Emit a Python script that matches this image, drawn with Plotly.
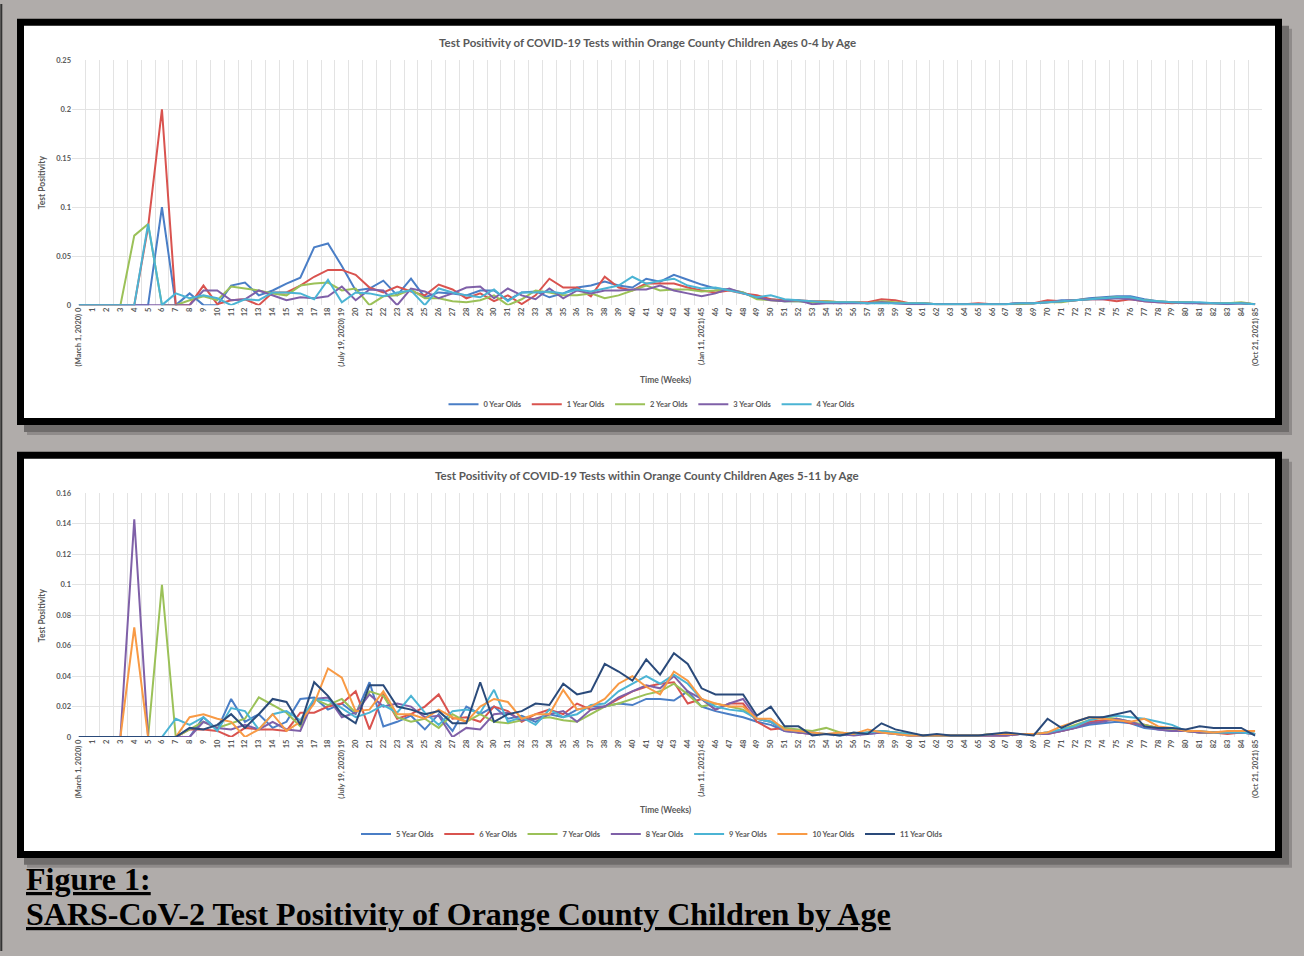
import plotly.graph_objects as go

W, H = 1304, 956

weeks = list(range(86))
special = {0: "(March 1, 2020) 0", 19: "(July 19, 2020) 19", 45: "(Jan 11, 2021) 45", 85: "(Oct 21, 2021) 85"}
tick_labels = [special.get(w, str(w)) for w in weeks]

# ---- Chart 1: ages 0-4 ----
age0 = [
    0, 0, 0, 0, 0, 0, 0.1, 0, 0.012, 0,
    0, 0.02, 0.023, 0.01, 0.015, 0.022, 0.028, 0.059, 0.063, 0.04,
    0.015, 0.017, 0.025, 0.01, 0.027, 0.008, 0.013, 0.012, 0.01, 0.015,
    0.015, 0.005, 0.013, 0.014, 0.008, 0.012, 0.018, 0.02, 0.024, 0.02,
    0.018, 0.027, 0.024, 0.031, 0.026, 0.021, 0.017, 0.016, 0.013, 0.007,
    0.006, 0.004, 0.004, 0.003, 0.003, 0.002, 0.003, 0.002, 0.003, 0.002,
    0.002, 0.002, 0.001, 0.001, 0.001, 0.001, 0.001, 0.001, 0.002, 0.002,
    0.003, 0.005, 0.005, 0.007, 0.008, 0.009, 0.009, 0.006, 0.004, 0.003,
    0.003, 0.002, 0.002, 0.002, 0.002, 0.001]
age1 = [
    0, 0, 0, 0, 0, 0.08, 0.2, 0, 0, 0.02,
    0.001, 0.005, 0.006, 0, 0.013, 0.013, 0.02, 0.029, 0.036, 0.036,
    0.031, 0.018, 0.013, 0.019, 0.014, 0.01, 0.021, 0.016, 0.007, 0.012,
    0.004, 0.01, 0.001, 0.01, 0.027, 0.018, 0.018, 0.009, 0.029, 0.018,
    0.015, 0.022, 0.022, 0.022, 0.018, 0.015, 0.013, 0.015, 0.012, 0.01,
    0.006, 0.005, 0.005, 0.004, 0.004, 0.003, 0.003, 0.003, 0.006, 0.005,
    0.002, 0.002, 0.001, 0.001, 0.001, 0.002, 0.001, 0.001, 0.002, 0.002,
    0.005, 0.004, 0.005, 0.006, 0.006, 0.004, 0.006, 0.004, 0.003, 0.002,
    0.003, 0.002, 0.002, 0.002, 0.002, 0.001]
age2 = [
    0, 0, 0, 0, 0.071, 0.083, 0, 0, 0.005, 0.009,
    0.005, 0.019, 0.017, 0.015, 0.012, 0.01, 0.02, 0.022, 0.023, 0.015,
    0.017, 0, 0.009, 0.01, 0.016, 0.007, 0.007, 0.004, 0.003, 0.005,
    0.01, 0, 0.006, 0.015, 0.013, 0.01, 0.01, 0.012, 0.007, 0.01,
    0.015, 0.02, 0.015, 0.016, 0.016, 0.014, 0.015, 0.016, 0.013, 0.006,
    0.005, 0.004, 0.004, 0.003, 0.004, 0.003, 0.003, 0.002, 0.004, 0.003,
    0.002, 0.002, 0.001, 0.001, 0.001, 0.001, 0.001, 0.001, 0.001, 0.002,
    0.003, 0.003, 0.005, 0.006, 0.007, 0.008, 0.007, 0.005, 0.004, 0.003,
    0.003, 0.002, 0.002, 0.002, 0.003, 0.001]
age3 = [
    0, 0, 0, 0, 0, 0, 0, 0, 0, 0.015,
    0.015, 0.005, 0.006, 0.015, 0.01, 0.005, 0.008, 0.007, 0.009, 0.019,
    0.005, 0.016, 0.015, 0, 0.017, 0.014, 0.007, 0.012, 0.018, 0.019,
    0.007, 0.017, 0.01, 0.006, 0.017, 0.007, 0.015, 0.012, 0.015, 0.015,
    0.016, 0.016, 0.02, 0.015, 0.012, 0.009, 0.012, 0.017, 0.012, 0.008,
    0.005, 0.004, 0.005, 0.001, 0.002, 0.002, 0.002, 0.002, 0.003, 0.002,
    0.001, 0.001, 0.001, 0.001, 0.001, 0.001, 0.001, 0.001, 0.002, 0.002,
    0.003, 0.004, 0.005, 0.006, 0.006, 0.007, 0.006, 0.004, 0.003, 0.003,
    0.002, 0.002, 0.002, 0.001, 0.002, 0.001]
age4 = [
    0, 0, 0, 0, 0, 0.083, 0, 0.012, 0.007, 0.01,
    0.007, 0, 0.006, 0.005, 0.013, 0.013, 0.012, 0.006, 0.026, 0.003,
    0.013, 0.012, 0.009, 0.013, 0.015, 0, 0.017, 0.013, 0.01, 0.008,
    0.016, 0.004, 0.013, 0.013, 0.014, 0.012, 0.016, 0.014, 0.017, 0.02,
    0.029, 0.022, 0.025, 0.027, 0.02, 0.017, 0.018, 0.015, 0.012, 0.008,
    0.01, 0.006, 0.005, 0.004, 0.003, 0.003, 0.003, 0.002, 0.002, 0.002,
    0.002, 0.002, 0.001, 0.001, 0.001, 0.001, 0.001, 0.001, 0.002, 0.002,
    0.003, 0.004, 0.005, 0.006, 0.007, 0.008, 0.008, 0.005, 0.004, 0.003,
    0.003, 0.003, 0.002, 0.002, 0.002, 0.001]

# ---- Chart 2: ages 5-11 ----
age5 = [
    0, 0, 0, 0, 0, 0, 0, 0, 0, 0.013,
    0.005, 0.025, 0.01, 0.015, 0.006, 0.01, 0.025, 0.026, 0.018, 0.022,
    0.015, 0.036, 0.007, 0.01, 0.014, 0.005, 0.015, 0.004, 0.02, 0.015,
    0.02, 0.012, 0.014, 0.01, 0.015, 0.013, 0.018, 0.02, 0.02, 0.022,
    0.021, 0.025, 0.025, 0.024, 0.03, 0.02, 0.017, 0.015, 0.013, 0.01,
    0.008, 0.004, 0.003, 0.002, 0.002, 0.001, 0.002, 0.002, 0.003, 0.002,
    0.001, 0.001, 0.001, 0.001, 0.001, 0.001, 0.001, 0.001, 0.002, 0.002,
    0.003, 0.004, 0.006, 0.008, 0.009, 0.01, 0.009, 0.006, 0.005, 0.004,
    0.004, 0.003, 0.003, 0.003, 0.003, 0.002]
age6 = [
    0, 0, 0, 0, 0, 0, 0, 0, 0.005, 0.005,
    0.004, 0, 0.006, 0.005, 0.005, 0.004, 0.016, 0.016, 0.02, 0.022,
    0.03, 0.005, 0.028, 0.012, 0.015, 0.02, 0.028, 0.012, 0.013, 0.01,
    0.02, 0.017, 0.01, 0.015, 0.018, 0.015, 0.022, 0.018, 0.02, 0.025,
    0.03, 0.033, 0.035, 0.036, 0.022, 0.025, 0.018, 0.022, 0.022, 0.01,
    0.005, 0.006, 0.003, 0.002, 0.002, 0.002, 0.002, 0.003, 0.004, 0.003,
    0.002, 0.001, 0.001, 0.001, 0.001, 0.001, 0.001, 0.001, 0.002, 0.002,
    0.002, 0.004, 0.006, 0.01, 0.011, 0.012, 0.009, 0.008, 0.006, 0.005,
    0.004, 0.003, 0.003, 0.002, 0.003, 0.002]
age7 = [
    0, 0, 0, 0, 0, 0, 0.1, 0, 0.005, 0.01,
    0.006, 0.009, 0.012, 0.026, 0.021, 0.016, 0.007, 0.025, 0.021, 0.025,
    0.016, 0.03, 0.027, 0.013, 0.01, 0.012, 0.006, 0.015, 0.01, 0.015,
    0.01, 0.009, 0.011, 0.012, 0.013, 0.011, 0.01, 0.015, 0.02, 0.022,
    0.025, 0.028, 0.03, 0.035, 0.028, 0.02, 0.022, 0.02, 0.018, 0.012,
    0.01, 0.006, 0.005, 0.004, 0.006, 0.003, 0.002, 0.003, 0.004, 0.003,
    0.002, 0.001, 0.001, 0.001, 0.001, 0.001, 0.002, 0.002, 0.002, 0.002,
    0.003, 0.005, 0.008, 0.011, 0.013, 0.012, 0.01, 0.008, 0.006, 0.005,
    0.004, 0.003, 0.003, 0.003, 0.004, 0.002]
age8 = [
    0, 0, 0, 0, 0.143, 0, 0, 0, 0, 0.01,
    0.006, 0.005, 0.008, 0.005, 0.01, 0.005, 0.004, 0.025, 0.026, 0.013,
    0.016, 0.028, 0.02, 0.022, 0.02, 0.013, 0.014, 0, 0.006, 0.005,
    0.015, 0.016, 0.011, 0.012, 0.015, 0.017, 0.01, 0.018, 0.02, 0.026,
    0.03, 0.034, 0.032, 0.04, 0.03, 0.025, 0.018, 0.022, 0.025, 0.012,
    0.01, 0.004, 0.003, 0.002, 0.002, 0.002, 0.001, 0.002, 0.003, 0.002,
    0.001, 0.001, 0.001, 0.001, 0.001, 0.001, 0.001, 0.001, 0.002, 0.002,
    0.002, 0.004, 0.006, 0.009, 0.01, 0.012, 0.01, 0.007, 0.005, 0.004,
    0.004, 0.003, 0.003, 0.003, 0.003, 0.002]
age9 = [
    0, 0, 0, 0, 0, 0, 0, 0.012, 0.008, 0.013,
    0.004, 0.019, 0.017, 0.005, 0.015, 0.017, 0.011, 0.025, 0.024, 0.019,
    0.013, 0.016, 0.021, 0.016, 0.027, 0.016, 0.008, 0.017, 0.018, 0.016,
    0.031, 0.01, 0.013, 0.008, 0.018, 0.013, 0.015, 0.021, 0.022, 0.03,
    0.035, 0.04, 0.035, 0.041, 0.035, 0.025, 0.02, 0.018, 0.017, 0.012,
    0.01, 0.005, 0.004, 0.003, 0.002, 0.002, 0.002, 0.003, 0.004, 0.003,
    0.002, 0.001, 0.001, 0.001, 0.001, 0.001, 0.002, 0.002, 0.002, 0.002,
    0.003, 0.005, 0.007, 0.011, 0.013, 0.014, 0.013, 0.012, 0.01, 0.008,
    0.004, 0.004, 0.003, 0.003, 0.003, 0.002]
age10 = [
    0, 0, 0, 0, 0.072, 0, 0, 0, 0.013, 0.015,
    0.012, 0.01, 0, 0.005, 0.015, 0.004, 0.01, 0.022, 0.045, 0.039,
    0.017, 0.018, 0.03, 0.015, 0.015, 0.012, 0.018, 0.013, 0.01, 0.02,
    0.025, 0.023, 0.012, 0.015, 0.015, 0.031, 0.018, 0.02, 0.025, 0.035,
    0.04, 0.033, 0.028, 0.043, 0.037, 0.025, 0.022, 0.02, 0.02, 0.012,
    0.012, 0.005, 0.004, 0.003, 0.002, 0.003, 0.002, 0.005, 0.003, 0.002,
    0.001, 0.001, 0.001, 0.001, 0.001, 0.001, 0.002, 0.002, 0.002, 0.002,
    0.003, 0.007, 0.01, 0.013, 0.012, 0.011, 0.01, 0.012, 0.007, 0.006,
    0.004, 0.004, 0.003, 0.004, 0.004, 0.004]
age11 = [
    0, 0, 0, 0, 0, 0, 0, 0, 0.006, 0.005,
    0.008, 0.015, 0.006, 0.015, 0.025, 0.023, 0.008, 0.036, 0.027, 0.015,
    0.009, 0.034, 0.034, 0.02, 0.018, 0.015, 0.017, 0.009, 0.009, 0.036,
    0.01, 0.015, 0.017, 0.022, 0.021, 0.035, 0.028, 0.03, 0.048, 0.043,
    0.037, 0.051, 0.041, 0.055, 0.048, 0.032, 0.028, 0.028, 0.028, 0.014,
    0.02, 0.007, 0.007, 0.001, 0.002, 0.001, 0.003, 0.002, 0.009, 0.005,
    0.003, 0.001, 0.002, 0.001, 0.001, 0.001, 0.002, 0.003, 0.002, 0.001,
    0.012, 0.006, 0.01, 0.013, 0.013, 0.015, 0.017, 0.007, 0.006, 0.006,
    0.005, 0.007, 0.006, 0.006, 0.006, 0.001]

series1 = [("0 Year Olds", age0), ("1 Year Olds", age1), ("2 Year Olds", age2),
           ("3 Year Olds", age3), ("4 Year Olds", age4)]
series2 = [("5 Year Olds", age5), ("6 Year Olds", age6), ("7 Year Olds", age7),
           ("8 Year Olds", age8), ("9 Year Olds", age9), ("10 Year Olds", age10),
           ("11 Year Olds", age11)]
colors1 = ["#4a7ec6", "#d9534f", "#9bc158", "#7f60a8", "#4bb4d4"]
colors2 = ["#4a7ec6", "#d9534f", "#9bc158", "#7f60a8", "#4bb4d4", "#f89a45", "#2a4a7a"]

TXT = "#595959"
FONT = "Lato"

def px(x, y):
    return x / W, 1 - y / H

fig = go.Figure()
for (name, vals), c in zip(series1, colors1):
    fig.add_trace(go.Scatter(x=weeks, y=vals, name=name, mode="lines",
                             line=dict(color=c, width=2), xaxis="x", yaxis="y", legend="legend"))
for (name, vals), c in zip(series2, colors2):
    fig.add_trace(go.Scatter(x=weeks, y=vals, name=name, mode="lines",
                             line=dict(color=c, width=2), xaxis="x2", yaxis="y2", legend="legend2"))

xdom = [72 / W, 1262 / W]
y1dom = [1 - 304 / H, 1 - 57 / H]
y2dom = [1 - 740 / H, 1 - 494 / H]

xaxis_common = dict(
    domain=xdom, range=[-0.5, 85.5], tickmode="array", tickvals=weeks, ticktext=tick_labels,
    tickangle=-90, showgrid=False, zeroline=False, showline=False, ticks="",
    tickfont=dict(family=FONT, size=7.5, color=TXT, weight="bold"),
    minor=dict(tick0=-0.5, dtick=1, showgrid=True, gridcolor="#e3e3e3", gridwidth=1, ticks=""),
    fixedrange=True,
)

shapes = []
def panel(top, bottom):
    for off, col in [(10, "#8f8b8a"), (7, "#6f6c6b")]:
        x0, y0 = px(17 + off, top + off)
        x1, y1 = px(1282 + off, bottom + off)
        shapes.append(dict(type="rect", xref="paper", yref="paper", x0=x0, y0=y0, x1=x1, y1=y1,
                           fillcolor=col, line=dict(width=0), layer="below"))
    x0, y0 = px(17, top)
    x1, y1 = px(1282, bottom)
    shapes.append(dict(type="rect", xref="paper", yref="paper", x0=x0, y0=y0, x1=x1, y1=y1,
                       fillcolor="#000000", line=dict(width=0), layer="below"))
    x0, y0 = px(24, top + 7)
    x1, y1 = px(1275, bottom - 7)
    shapes.append(dict(type="rect", xref="paper", yref="paper", x0=x0, y0=y0, x1=x1, y1=y1,
                       fillcolor="#ffffff", line=dict(width=0), layer="below"))

panel(15, 425)
panel(452, 862)
shapes.append(dict(type="line", xref="paper", yref="paper", x0=0.001, x1=0.001, y0=0, y1=1,
                   line=dict(color="#333333", width=2), layer="below"))

annotations = []
def ann(text, x, y, size, rot=0, xanchor="center", family=FONT, color=TXT, weight="bold"):
    ax, ay = px(x, y)
    annotations.append(dict(text=text, x=ax, y=ay, xref="paper", yref="paper", showarrow=False,
                            xanchor=xanchor, yanchor="middle", textangle=rot,
                            font=dict(family=family, size=size, color=color, weight=weight)))

ann("Test Positivity of COVID-19 Tests within Orange County Children Ages 0-4 by Age", 647, 39, 11.5)
ann("Test Positivity of COVID-19 Tests within Orange County Children Ages 5-11 by Age", 647, 476, 11.5)
ann("Test Positivity", 42, 180, 8.5, rot=-90)
ann("Test Positivity", 42, 617, 8.5, rot=-90)
ann("Time (Weeks)", 666, 380, 8.5)
ann("Time (Weeks)", 666, 814, 8.5)
ann("<u>Figure 1:</u>", 24, 883, 32, xanchor="left", family="Liberation Serif", color="#000000")
ann("<u>SARS-CoV-2 Test Positivity of Orange County Children by Age</u>", 24, 919, 32,
    xanchor="left", family="Liberation Serif", color="#000000")

yaxis_common = dict(showgrid=True, gridcolor="#e3e3e3", gridwidth=1, zeroline=False, showline=False,
                    ticks="", tickfont=dict(family=FONT, size=7.5, color=TXT, weight="bold"),
                    fixedrange=True)

legend_common = dict(orientation="h", xanchor="center", yanchor="middle", x=0.5,
                     font=dict(family=FONT, size=7.5, color=TXT, weight="bold"),
                     bgcolor="rgba(0,0,0,0)", itemwidth=30, tracegroupgap=0)

fig.update_layout(
    width=W, height=H, margin=dict(l=0, r=0, t=0, b=0),
    paper_bgcolor="#b0acaa", plot_bgcolor="#ffffff",
    xaxis=dict(**xaxis_common, anchor="y"),
    yaxis=dict(**yaxis_common, domain=y1dom, range=[0, 0.25], dtick=0.05, anchor="x"),
    xaxis2=dict(**xaxis_common, anchor="y2"),
    yaxis2=dict(**yaxis_common, domain=y2dom, range=[0, 0.16], dtick=0.02, anchor="x2"),
    legend=dict(**legend_common, y=1 - 404 / H),
    legend2=dict(**legend_common, y=1 - 838 / H),
    shapes=shapes, annotations=annotations, showlegend=True,
)

fig.write_html("out.html", config={"displayModeBar": False},
               post_script="document.body.style.margin='0';document.body.style.overflow='hidden';"
                           "document.body.style.background='#b0acaa';")
